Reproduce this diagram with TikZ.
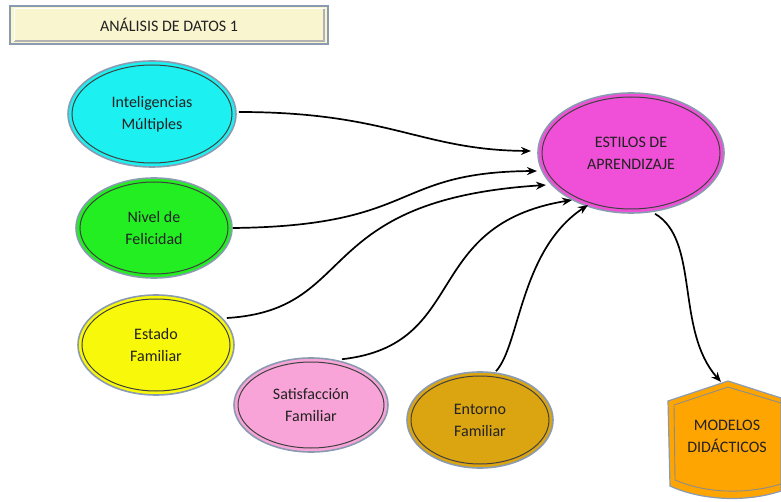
\documentclass[tikz,border=0pt]{standalone}
\usepackage{fontspec}
\setmainfont{Carlito}
\usetikzlibrary{shapes.geometric,arrows.meta}
\definecolor{cyanf}{HTML}{1CF0F0}
\definecolor{greenf}{HTML}{22EE22}
\definecolor{yellowf}{HTML}{F8F80A}
\definecolor{pinkf}{HTML}{F8A4D8}
\definecolor{goldf}{HTML}{DBA512}
\definecolor{magf}{HTML}{F050D8}
\definecolor{orangef}{HTML}{FFA502}
\definecolor{titlef}{HTML}{F8F5CF}
\definecolor{rim}{HTML}{8A9AB0}
\definecolor{txt}{HTML}{222222}
\tikzset{
  bubble/.style={ellipse, draw=rim, line width=1.6pt, align=center, text=txt, font=\fontsize{16}{22}\selectfont, inner sep=0pt},
  conn/.style={-{Stealth[length=10pt,width=8pt]}, line width=1.7pt, black},
}
\newcommand{\innerrim}[3]{\draw[line width=1pt, black!75] (#1.center) ellipse [x radius=#2, y radius=#3];}
\begin{document}
\begin{tikzpicture}[x=1pt,y=-1pt]
\useasboundingbox (0,0) rectangle (781,502);
% title
\node[draw=rim, line width=1.2pt, fill=titlef, minimum width=318pt, minimum height=38pt, inner sep=0pt, text=txt, font=\fontsize{16}{18}\selectfont] (title) at (169,25) {ANÁLISIS DE DATOS 1};
\draw[black!30, line width=1.2pt] (14,41) -- (324,41) -- (324,9);
\draw[white, line width=1pt] (14,41) -- (14,9) -- (324,9);
% ellipses
\node[bubble, fill=cyanf, minimum width=168pt, minimum height=106pt] (im) at (152,114) {Inteligencias\\Múltiples};
\innerrim{im}{80pt}{49pt}
\node[bubble, fill=greenf, minimum width=156pt, minimum height=100pt] (nf) at (154,228) {Nivel de\\Felicidad};
\innerrim{nf}{74pt}{46pt}
\node[bubble, fill=yellowf, minimum width=156pt, minimum height=100pt] (ef) at (156,345) {Estado\\Familiar};
\innerrim{ef}{74pt}{46pt}
\node[bubble, fill=pinkf, minimum width=154pt, minimum height=94pt] (sf) at (311,405) {Satisfacción\\Familiar};
\innerrim{sf}{73pt}{43pt}
\node[bubble, fill=goldf, minimum width=146pt, minimum height=96pt] (enf) at (480,420) {Entorno\\Familiar};
\innerrim{enf}{69pt}{44pt}
\node[bubble, fill=magf, minimum width=186pt, minimum height=120pt] (ea) at (631,153) {ESTILOS DE\\APRENDIZAJE};
\innerrim{ea}{89pt}{56pt}
% modelos didacticos shield
\filldraw[fill=orangef, draw=rim, line width=1.2pt]
  (668,401) -- (728,381) -- (781,398) -- (781,491) .. controls (745,503) and (700,500) .. (670,486) -- cycle;
\draw[black!45, line width=0.9pt] (674,405) -- (728,387) -- (781,403);
\draw[black!45, line width=0.9pt] (674,405) -- (675,480) .. controls (705,493) and (745,495) .. (781,484);
\node[font=\fontsize{16}{22}\selectfont, text=txt, align=center, inner sep=0pt] (mdt) at (727,436) {MODELOS\\DIDÁCTICOS};
\coordinate (mdtop) at (721,382);
% connectors
\draw[conn] (im.east) ++(2,-2) .. controls (390,112) and (420,150) .. (531,151);
\draw[conn] (nf.east) .. controls (420,226) and (390,172) .. (537,171);
\draw[conn] (ef.east) ++(-8,-27) .. controls (360,310) and (310,200) .. (546,185);
\draw[conn] (sf.north) ++(31,2) .. controls (470,345) and (420,225) .. (572,200);
\draw[conn] (enf.north) ++(16,0) .. controls (520,345) and (520,250) .. (588,205);
\draw[conn] (ea.south) ++(24,0) .. controls (700,240) and (675,330) .. (mdtop);
\end{tikzpicture}
\end{document}
